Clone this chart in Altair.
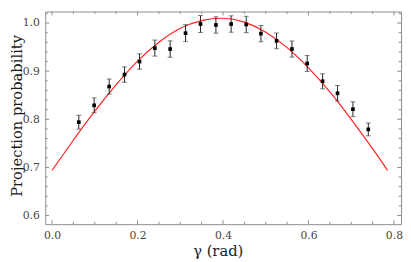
import altair as alt
import pandas as pd

# measured points
gamma = [0.0625, 0.0985, 0.1336, 0.1695, 0.2046, 0.2405, 0.2763, 0.3123, 0.3473, 0.3834,
         0.4190, 0.4543, 0.4887, 0.5253, 0.5613, 0.5970, 0.6330, 0.6680, 0.7040, 0.7400]
prob = [0.794, 0.829, 0.868, 0.893, 0.920, 0.948, 0.946, 0.979, 0.998, 0.996,
        0.998, 0.997, 0.978, 0.963, 0.946, 0.916, 0.879, 0.854, 0.821, 0.779]
err = [0.0144, 0.0154, 0.0157, 0.0160, 0.0160, 0.0167, 0.0170, 0.0176, 0.0176, 0.0170,
       0.0170, 0.0170, 0.0170, 0.0163, 0.0167, 0.0167, 0.0157, 0.0163, 0.0154, 0.0134]

# theory curve
fit_gamma = [0.0, 0.05, 0.10, 0.15, 0.20, 0.25, 0.30, 0.35, 0.40, 0.45, 0.50, 0.55,
             0.60, 0.65, 0.70, 0.75, 0.785]
fit_prob = [0.694, 0.757, 0.817, 0.872, 0.921, 0.960, 0.989, 1.005, 1.010, 1.002, 0.981,
            0.949, 0.907, 0.857, 0.800, 0.739, 0.694]

# axis ticks
x_major = [0.0, 0.2, 0.4, 0.6, 0.8]
x_minor = [0.05, 0.10, 0.15, 0.25, 0.30, 0.35, 0.45, 0.50, 0.55, 0.65, 0.70, 0.75]
y_major = [0.6, 0.7, 0.8, 0.9, 1.0]
y_minor = [0.62, 0.64, 0.66, 0.68, 0.72, 0.74, 0.76, 0.78, 0.82, 0.84, 0.86, 0.88,
           0.92, 0.94, 0.96, 0.98, 1.02]

W = 363
H = 217
FRAME = "#8c8c8c"
SERIF = "DejaVu Serif"

pts = pd.DataFrame({"g": gamma, "p": prob})
pts["lo"] = [p - e for p, e in zip(prob, err)]
pts["hi"] = [p + e for p, e in zip(prob, err)]
fit = pd.DataFrame({"g": fit_gamma, "p": fit_prob})

xs = alt.Scale(domain=[-0.016, 0.8166], nice=False, zero=False)
ys = alt.Scale(domain=[0.582, 1.024], nice=False, zero=False)

x_axis = alt.Axis(values=x_major, format=".1f", ticks=False, tickSize=0, domain=False, grid=False,
                  labelFont=SERIF, labelFontSize=11, labelColor="#444444", labelPadding=6,
                  title="γ (rad)", titleFont=SERIF, titleFontSize=15, titleFontWeight="normal",
                  titleColor="#1a1a1a", titleBaseline="alphabetic", titleY=32, titleX=176,
                  titleAlign="center")
y_axis = alt.Axis(values=y_major, format=".1f", ticks=False, tickSize=0, domain=False, grid=False,
                  labelFont=SERIF, labelFontSize=11, labelColor="#444444", labelPadding=6,
                  title="Projection probability", titleFont=SERIF, titleFontSize=15,
                  titleFontWeight="normal", titleColor="#1a1a1a", titleBaseline="alphabetic",
                  titleAngle=270, titleX=-24, titleY=106, titleAlign="center")

curve = alt.Chart(fit).mark_line(color="#ff2020", strokeWidth=1.2, interpolate="natural", clip=True).encode(
    x=alt.X("g:Q", scale=xs, axis=x_axis),
    y=alt.Y("p:Q", scale=ys, axis=y_axis),
)

bars = alt.Chart(pts).mark_rule(color="#222222", strokeWidth=1).encode(
    x=alt.X("g:Q", scale=xs), y=alt.Y("lo:Q", scale=ys), y2="hi:Q")
cap_lo = alt.Chart(pts).mark_tick(color="#444444", orient="horizontal", size=5, thickness=1).encode(
    x=alt.X("g:Q", scale=xs), y=alt.Y("lo:Q", scale=ys))
cap_hi = alt.Chart(pts).mark_tick(color="#444444", orient="horizontal", size=5, thickness=1).encode(
    x=alt.X("g:Q", scale=xs), y=alt.Y("hi:Q", scale=ys))
dots = alt.Chart(pts).mark_square(color="black", size=14, opacity=1, filled=True).encode(
    x=alt.X("g:Q", scale=xs), y=alt.Y("p:Q", scale=ys))


def xticks(vals, length):
    df = pd.DataFrame({"v": vals})
    bottom = alt.Chart(df).mark_rule(color=FRAME, strokeWidth=1).encode(
        x=alt.X("v:Q", scale=xs), y=alt.value(H), y2=alt.value(H - length))
    top = alt.Chart(df).mark_rule(color=FRAME, strokeWidth=1).encode(
        x=alt.X("v:Q", scale=xs), y=alt.value(0), y2=alt.value(length))
    return [bottom, top]


def yticks(vals, length):
    df = pd.DataFrame({"v": vals})
    left = alt.Chart(df).mark_rule(color=FRAME, strokeWidth=1).encode(
        y=alt.Y("v:Q", scale=ys), x=alt.value(0), x2=alt.value(length))
    right = alt.Chart(df).mark_rule(color=FRAME, strokeWidth=1).encode(
        y=alt.Y("v:Q", scale=ys), x=alt.value(W), x2=alt.value(W - length))
    return [left, right]


layers = [curve] + xticks(x_major, 4) + xticks(x_minor, 2.5) + yticks(y_major, 4) + yticks(y_minor, 2.5) \
    + [bars, cap_lo, cap_hi, dots]

chart = alt.layer(*layers).properties(
    width=W, height=H,
    autosize=alt.AutoSizeParams(type="none"),
    padding={"left": 38, "top": 1, "right": 2, "bottom": 36},
    background="white",
).configure_view(stroke=FRAME, strokeWidth=1)

chart.save("out.html", embed_options={"renderer": "svg", "actions": False})
